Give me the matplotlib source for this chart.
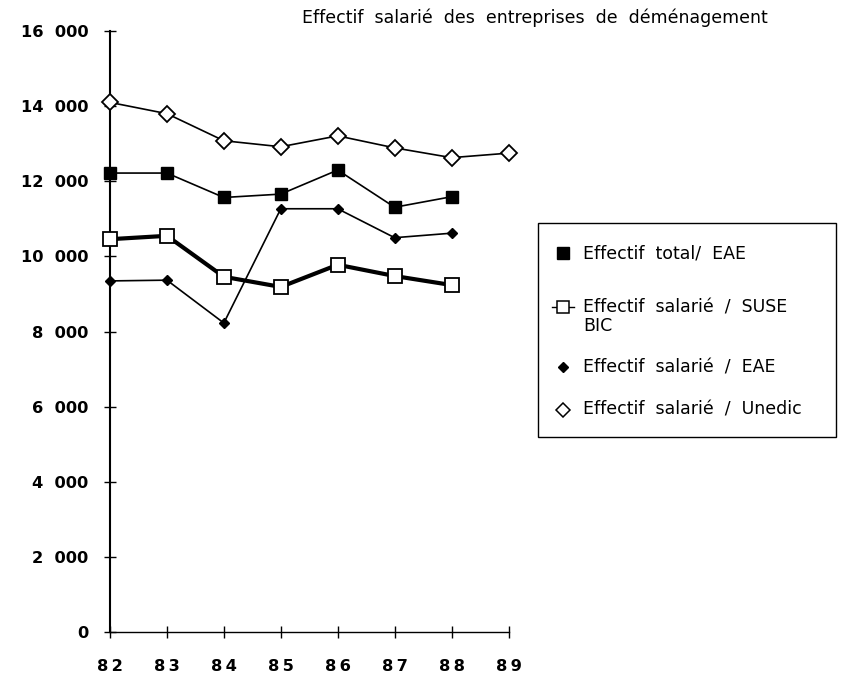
import matplotlib
matplotlib.use("Agg")
import matplotlib.pyplot as plt
from matplotlib.lines import Line2D
from matplotlib.patches import Rectangle

# annees (abscisse)
years = [82, 83, 84, 85, 86, 87, 88, 89]
year_labels = ["8\u20092", "8\u20093", "8\u20094", "8\u20095", "8\u20096", "8\u20097", "8\u20098", "8\u20099"]

# series
total_eae = [12220, 12220, 11570, 11660, 12300, 11310, 11590]
suse_bic = [10460, 10550, 9460, 9190, 9780, 9480, 9240]
salarie_eae = [9350, 9370, 8230, 11270, 11270, 10500, 10620]
unedic = [14100, 13800, 13080, 12920, 13210, 12890, 12630, 12750]

y_ticks = [0, 2000, 4000, 6000, 8000, 10000, 12000, 14000, 16000]

labels = ["Effectif  total/  EAE",
          "Effectif  salarié  /  SUSE\nBIC",
          "Effectif  salarié  /  EAE",
          "Effectif  salarié  /  Unedic"]

plt.rcParams['font.family'] = ['DejaVu Sans']

fig = plt.figure(figsize=(8.51, 6.79), dpi=100)
ax = fig.add_axes([110 / 851, 1 - 632.3 / 679, 398.5 / 851, 601.3 / 679])

ax.plot(years[:7], total_eae, color='black', lw=1.2, marker='s', ms=9,
        mfc='black', mec='black', clip_on=False, zorder=4)
ax.plot(years[:7], salarie_eae, color='black', lw=1.2, marker='D', ms=5.5,
        mfc='black', mec='black', clip_on=False, zorder=3)
ax.plot(years[:7], suse_bic, color='black', lw=3, marker='s', ms=9.5,
        mfc='white', mec='black', mew=1.3, clip_on=False, zorder=5)
ax.plot(years, unedic, color='black', lw=1.2, marker='D', ms=8,
        mfc='white', mec='black', mew=1.3, clip_on=False, zorder=4)

ax.set_xlim(82, 89)
ax.set_ylim(0, 16000)
ax.set_xticks(years)
ax.set_xticklabels(year_labels)
ax.set_yticks(y_ticks)
ax.set_yticklabels([f"{v:,}".replace(",", "  ") for v in y_ticks])

for s in ['top', 'right']:
    ax.spines[s].set_visible(False)
ax.spines['left'].set_linewidth(1.5)
ax.spines['bottom'].set_linewidth(1.0)

ax.tick_params(axis='both', direction='inout', length=8, width=1,
               labelsize=11.7)
ax.tick_params(axis='y', pad=11.5)
ax.tick_params(axis='x', pad=15)
for lab in ax.get_xticklabels() + ax.get_yticklabels():
    lab.set_fontweight('bold')

fig.text(302 / 851, 1 - 18 / 679,
         "Effectif  salarié  des  entreprises  de  déménagement",
         ha='left', va='center', fontsize=12.5)

# legende dessinee a la main
fig.add_artist(Rectangle((538 / 851, 1 - 437 / 679), 298 / 851, 214 / 679,
                         transform=fig.transFigure, fill=False,
                         edgecolor='black', lw=1))
styles = [dict(marker='s', ms=8, mfc='black', mec='black'),
          dict(marker='s', ms=8, mfc='white', mec='black', mew=1.1),
          dict(marker='D', ms=5, mfc='black', mec='black'),
          dict(marker='D', ms=7, mfc='white', mec='black', mew=1.1)]
rows = [253, 307, 367, 410]
for lab, st, yy in zip(labels, styles, rows):
    yf = 1 - yy / 679
    if '\n' in lab:
        # petit trait de part et d'autre du carre
        fig.add_artist(Line2D([552 / 851, 574 / 851], [yf, yf],
                              transform=fig.transFigure, color='black', lw=1))
        fig.text(583 / 851, yf + 9 / 679, lab, ha='left', va='top',
                 fontsize=12.5, linespacing=1.1)
    else:
        fig.text(583 / 851, yf, lab, ha='left', va='center', fontsize=12.5)
    fig.add_artist(Line2D([563 / 851], [yf], transform=fig.transFigure,
                          ls='none', **st))

fig.savefig("out.png", dpi=100)
